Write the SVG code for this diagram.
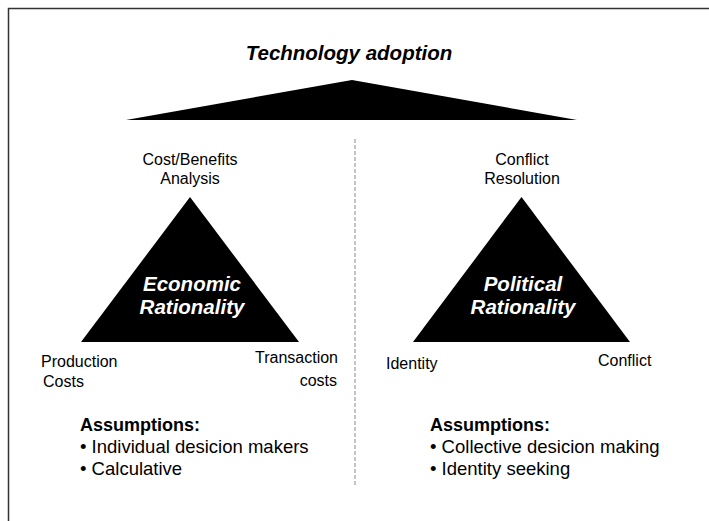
<svg xmlns="http://www.w3.org/2000/svg" width="709" height="521" viewBox="0 0 709 521">
  <style>
    text { font-family: "Liberation Sans", Arial, sans-serif; fill: #000; }
    .title { font-size: 20.5px; font-weight: bold; font-style: italic; text-anchor: middle; }
    .label { font-size: 16px; }
    .mid { text-anchor: middle; }
    .end { text-anchor: end; }
    .core { font-size: 20.5px; font-weight: bold; font-style: italic; fill: #fff; text-anchor: middle; }
    .head { font-size: 18px; font-weight: bold; }
    .item { font-size: 18.5px; }
    .tri { fill: #000; }
  </style>
  <rect width="709" height="521" fill="#fff"/>
  <!-- page frame: top and left edges only -->
  <path d="M8.5 521 V8.5 H709" fill="none" stroke="#333" stroke-width="1.5"/>

  <g id="adoption">
    <text class="title" x="349" y="60">Technology adoption</text>
    <polygon class="tri" points="126,120 352,80 577,120"/>
  </g>

  <g id="connectors">
    <line x1="355" y1="139" x2="355" y2="485" stroke="#888" stroke-width="1" stroke-dasharray="4 2"/>
  </g>

  <g id="economic">
    <polygon class="tri" points="190,197 81,342 299,342"/>
    <text class="core" x="192" y="291">Economic</text>
    <text class="core" x="192" y="314">Rationality</text>
  </g>
  <g id="cost-benefits">
    <text class="label mid" x="190" y="165">Cost/Benefits</text>
    <text class="label mid" x="190" y="184">Analysis</text>
  </g>
  <g id="production-costs">
    <text class="label" x="41" y="367">Production</text>
    <text class="label" x="43" y="387">Costs</text>
  </g>
  <g id="transaction-costs">
    <text class="label end" x="338" y="363">Transaction</text>
    <text class="label end" x="337" y="386">costs</text>
  </g>
  <g id="economic-assumptions">
    <text class="head" x="80" y="431">Assumptions:</text>
    <text class="item" x="80" y="453">• Individual desicion makers</text>
    <text class="item" x="80" y="475">• Calculative</text>
  </g>

  <g id="political">
    <polygon class="tri" points="521.5,197 413,342 630,342"/>
    <text class="core" x="523" y="291">Political</text>
    <text class="core" x="523" y="314">Rationality</text>
  </g>
  <g id="conflict-resolution">
    <text class="label mid" x="522" y="165">Conflict</text>
    <text class="label mid" x="522" y="184">Resolution</text>
  </g>
  <g id="identity">
    <text class="label" x="386" y="369">Identity</text>
  </g>
  <g id="conflict">
    <text class="label" x="598" y="366">Conflict</text>
  </g>
  <g id="political-assumptions">
    <text class="head" x="430" y="431">Assumptions:</text>
    <text class="item" x="430" y="453">• Collective desicion making</text>
    <text class="item" x="430" y="475">• Identity seeking</text>
  </g>
</svg>
